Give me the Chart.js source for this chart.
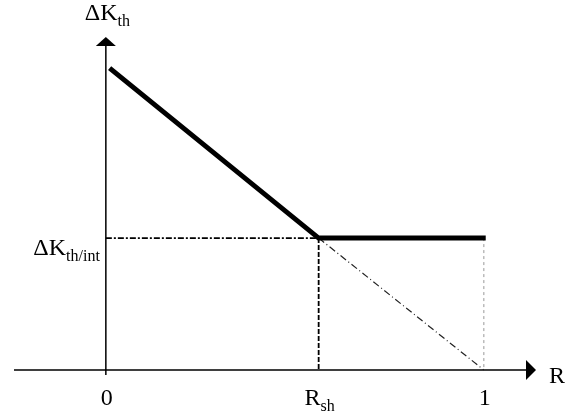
<!DOCTYPE html>
<html>
<head>
<meta charset="utf-8">
<script src="https://cdn.jsdelivr.net/npm/chart.js@4"></script>
<style>
  html, body { margin: 0; padding: 0; background: #fff; }
  #wrap { width: 581px; height: 419px; }
</style>
</head>
<body>
<div id="wrap"><canvas id="thresholdChart" width="581" height="419"></canvas></div>
<script>
// werte aus dem bild (DeltaK normiert: DeltaK0 = 1 bei R = 0)
const rSh = 0.563;
const dkInt = 0.437;

// dicke linie: abfall bis R_sh, dann konstant bis R = 1
const mainR = [0.01, rSh, 1.005];
const mainDK = [1, dkInt, dkInt];

// hilfslinien
const extR = [rSh, 1];       // verlaengerung der geraden bis R = 1
const extDK = [dkInt, 0];

// achsenbeschriftung
const xTickValues = [0, rSh, 1];
const xTickLabels = [["0", ""], ["R", "sh"], ["1", ""]];
const yTickValues = [dkInt];
const yTickLabels = [["\u0394K", "th/int"]];
const yTitle = ["\u0394K", "th"];
const xTitle = "R";

// sichtbarer bereich
const xMin = -0.243, xMax = 1.138;
const yMin = -0.0066, yMax = 1.103;

const toPts = (xs, ys) => xs.map((x, i) => ({ x: x, y: ys[i] }));

const mainFont = '24px "Liberation Serif", "Times New Roman", serif';
const subFont = '16px "Liberation Serif", "Times New Roman", serif';

// text mit tiefgestelltem teil zeichnen
function drawSub(ctx, main, sub, x, y, align) {
    ctx.font = mainFont;
    const w1 = ctx.measureText(main).width;
    ctx.font = subFont;
    const w2 = sub ? ctx.measureText(sub).width : 0;
    let left = x;
    if (align === "center") left = x - (w1 + w2) / 2;
    if (align === "right") left = x - (w1 + w2);
    ctx.textAlign = "left";
    ctx.textBaseline = "alphabetic";
    ctx.font = mainFont;
    ctx.fillText(main, left, y);
    if (sub) {
        ctx.font = subFont;
        ctx.fillText(sub, left + w1, y + 6);
    }
}

// achsen mit pfeilen
const axesPlugin = {
    id: "axesArrows",
    beforeDatasetsDraw(chart) {
        const ctx = chart.ctx;
        const xs = chart.scales.x, ys = chart.scales.y;
        const x0 = xs.getPixelForValue(0);
        const y0 = ys.getPixelForValue(0);
        const left = xs.getPixelForValue(xMin);
        const right = xs.getPixelForValue(xMax);
        const top = ys.getPixelForValue(yMax);
        ctx.save();
        ctx.strokeStyle = "#000";
        ctx.fillStyle = "#000";
        ctx.lineWidth = 1.5;
        ctx.beginPath();
        ctx.moveTo(left, y0);
        ctx.lineTo(right - 8, y0);
        ctx.moveTo(x0, y0 + 5);
        ctx.lineTo(x0, top + 8);
        ctx.stroke();
        // pfeil y
        ctx.beginPath();
        ctx.moveTo(x0, top);
        ctx.lineTo(x0 - 10, top + 9);
        ctx.lineTo(x0 + 10, top + 9);
        ctx.closePath();
        ctx.fill();
        // pfeil x
        ctx.beginPath();
        ctx.moveTo(right, y0);
        ctx.lineTo(right - 10, y0 - 10);
        ctx.lineTo(right - 10, y0 + 10);
        ctx.closePath();
        ctx.fill();
        ctx.restore();
    },
    afterDraw(chart) {
        const ctx = chart.ctx;
        const xs = chart.scales.x, ys = chart.scales.y;
        const x0 = xs.getPixelForValue(0);
        const y0 = ys.getPixelForValue(0);
        ctx.save();
        ctx.fillStyle = "#000";
        xTickValues.forEach((v, i) => {
            drawSub(ctx, xTickLabels[i][0], xTickLabels[i][1], xs.getPixelForValue(v) + 1, y0 + 35, "center");
        });
        yTickValues.forEach((v, i) => {
            drawSub(ctx, yTickLabels[i][0], yTickLabels[i][1], x0 - 6, ys.getPixelForValue(v) + 17, "right");
        });
        drawSub(ctx, yTitle[0], yTitle[1], x0 - 21, 20, "left");
        drawSub(ctx, xTitle, "", xs.getPixelForValue(xMax) + 13, y0 + 13, "left");
        ctx.restore();
    }
};

const ctx = document.getElementById("thresholdChart").getContext("2d");

new Chart(ctx, {
    type: "scatter",
    data: {
        datasets: [
            {
                label: "DeltaK_th",
                data: toPts(mainR, mainDK),
                showLine: true,
                borderColor: "#000",
                borderWidth: 5,
                pointRadius: 0,
                borderCapStyle: "butt",
                borderJoinStyle: "miter",
                clip: false,
                order: 1
            },
            {
                // horizontale strichpunktlinie
                label: "h",
                data: toPts([0, rSh], [dkInt, dkInt]),
                showLine: true,
                borderColor: "#000",
                borderWidth: 1.8,
                borderDash: [6, 2, 2, 2],
                pointRadius: 0,
                clip: false,
                order: 2
            },
            {
                // senkrechte bei R_sh
                label: "v1",
                data: toPts([rSh, rSh], [dkInt, 0]),
                showLine: true,
                borderColor: "#000",
                borderWidth: 1.8,
                borderDash: [5, 2],
                pointRadius: 0,
                clip: false,
                order: 2
            },
            {
                // verlaengerung bis R = 1
                label: "ext",
                data: toPts(extR, extDK),
                showLine: true,
                borderColor: "#222",
                borderWidth: 1.2,
                borderDash: [7, 3, 1, 3],
                pointRadius: 0,
                clip: false,
                order: 2
            },
            {
                // senkrechte bei R = 1
                label: "v2",
                data: toPts([1, 1], [dkInt, 0]),
                showLine: true,
                borderColor: "#999",
                borderWidth: 1,
                borderDash: [3, 3],
                pointRadius: 0,
                clip: false,
                order: 2
            }
        ]
    },
    options: {
        responsive: false,
        animation: false,
        layout: {
            padding: { left: 14, right: 45, top: 37, bottom: 47 }
        },
        plugins: {
            legend: { display: false },
            tooltip: { enabled: false }
        },
        scales: {
            x: { type: "linear", min: xMin, max: xMax, display: false },
            y: { type: "linear", min: yMin, max: yMax, display: false }
        }
    },
    plugins: [axesPlugin]
});
</script>
</body>
</html>
